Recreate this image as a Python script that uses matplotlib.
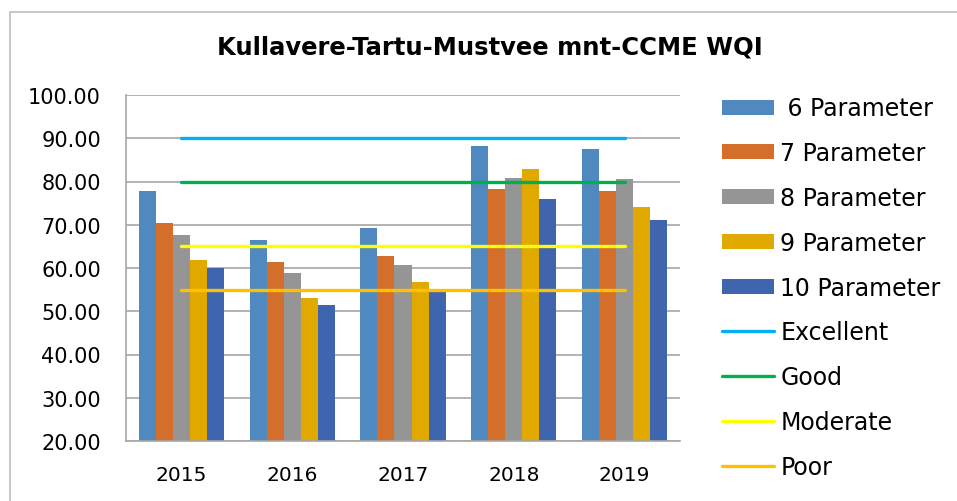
import matplotlib.pyplot as plt
import numpy as np
from matplotlib.patches import Rectangle

years = ['2015', '2016', '2017', '2018', '2019']
p6 = [77.8, 66.5, 69.3, 88.2, 87.4]
p7 = [70.5, 61.3, 62.8, 78.2, 77.7]
p8 = [67.6, 58.9, 60.6, 80.9, 80.5]
p9 = [61.9, 53.0, 56.7, 83.0, 74.0]
p10 = [60.0, 51.4, 54.5, 75.9, 71.1]
bar_labels = [' 6 Parameter', '7 Parameter', '8 Parameter', '9 Parameter', '10 Parameter']
bar_colors = ['#5089BF', '#D36F2B', '#959595', '#E1A900', '#3E65AD']

excellent = [90, 90, 90, 90, 90]
good = [80, 80, 80, 80, 80]
moderate = [65, 65, 65, 65, 65]
poor = [55, 55, 55, 55, 55]
line_labels = ['Excellent', 'Good', 'Moderate', 'Poor']
line_colors = ['#00B0F0', '#00B050', '#FFFF00', '#FFC000']

fig = plt.figure(figsize=(9.57, 5.02), dpi=100)
ax = fig.add_axes([126 / 957, 1 - 442 / 502, 554 / 957, 346 / 502])

# chart frame
fig.patches.append(Rectangle((10 / 957, -0.05), 1.2, 1 - 13 / 502 + 0.05,
                             transform=fig.transFigure, fill=False,
                             edgecolor='#BFBFBF', linewidth=1.2))

x = np.arange(len(years))
w = 0.154
bars = []
for i, (vals, lab, col) in enumerate(zip([p6, p7, p8, p9, p10], bar_labels, bar_colors)):
    bars.append(ax.bar(x + (i - 2) * w, vals, w, color=col, label=lab, zorder=2))

lines = []
for vals, lab, col in zip([excellent, good, moderate, poor], line_labels, line_colors):
    ln, = ax.plot(x, vals, color=col, linewidth=2.4, label=lab, zorder=3,
                  solid_capstyle='round')
    lines.append(ln)

ax.set_xlim(-0.5, 4.5)
ax.set_ylim(20, 100)
ax.set_yticks(np.arange(20, 101, 10))
ax.set_yticklabels([f'{v:.2f}' for v in np.arange(20, 101, 10)], fontsize=15)
ax.set_xticks(x)
ax.set_xticklabels(years, fontsize=14.5)
ax.tick_params(axis='x', length=0, pad=17)
ax.tick_params(axis='y', length=0, pad=18)
ax.grid(axis='y', color='#A6A6A6', linewidth=1.2, zorder=0)
ax.set_axisbelow(True)
for s in ['top', 'right']:
    ax.spines[s].set_visible(False)
for s in ['left', 'bottom']:
    ax.spines[s].set_color('#A6A6A6')
    ax.spines[s].set_linewidth(1.2)

fig.text(490 / 957, 1 - 48 / 502, 'Kullavere-Tartu-Mustvee mnt-CCME WQI',
         ha='center', va='center', fontsize=17.5, fontweight='bold')

leg = ax.legend(bars + lines, bar_labels + line_labels,
                loc='upper left', bbox_to_anchor=(713 / 957, 1 - 88 / 502),
                bbox_transform=fig.transFigure, frameon=False, fontsize=17,
                handlelength=2.2, handleheight=0.6, handletextpad=0.25,
                labelspacing=0.88, borderaxespad=0)

fig.savefig('out.png', dpi=100)
